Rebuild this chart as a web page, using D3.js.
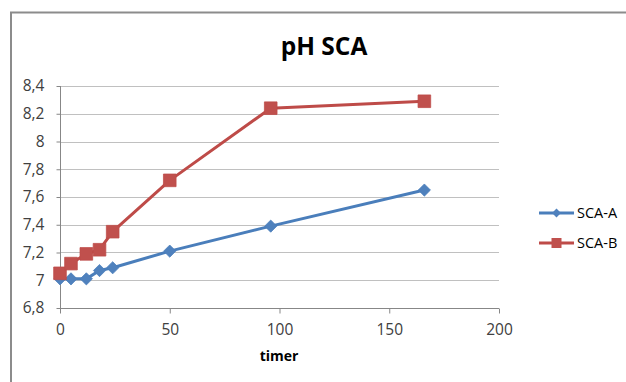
<!DOCTYPE html>
<html><head><meta charset="utf-8">
<script src="https://cdn.jsdelivr.net/npm/d3@7"></script>
<style>body{margin:0;background:#fff}svg{display:block}</style>
</head><body>
<svg id="c" width="626" height="382"></svg>
<script>
const hours = [0, 5, 12, 18, 24, 50, 96, 166];
const scaA = [7.01, 7.01, 7.01, 7.07, 7.09, 7.21, 7.39, 7.65];
const scaB = [7.05, 7.12, 7.19, 7.22, 7.35, 7.72, 8.24, 8.29];
const seriesNames = ["SCA-A", "SCA-B"];
const xTicks = [0, 50, 100, 150, 200];
const yTicks = [6.8, 7, 7.2, 7.4, 7.6, 7.8, 8, 8.2, 8.4];
const title = "pH SCA";
const xTitle = "timer";

const svg = d3.select("#c");
const font = "'Open Sans', 'Liberation Sans', sans-serif";
const colors = ["#4A7EBB", "#BE4B48"];
const fills = ["#4F81BD", "#C0504D"];

// frame (left and top only visible)
svg.append("path").attr("d", "M11,382 V12.5 H626").attr("fill", "none")
  .attr("stroke", "#8c8c8c").attr("stroke-width", 2);

const x = d3.scaleLinear().domain([0, 200]).range([60, 499]);
const y = d3.scaleLinear().domain([6.8, 8.4]).range([308, 86]);

// gridlines
svg.append("g").selectAll("line").data(yTicks.slice(1)).join("line")
  .attr("x1", x(0)).attr("x2", x(200))
  .attr("y1", d => Math.round(y(d)) + 0.5).attr("y2", d => Math.round(y(d)) + 0.5)
  .attr("stroke", "#c0c0c0").attr("stroke-width", 1);

const fmt = d => String(+d.toFixed(1)).replace(".", ",");

// y axis
const ya = svg.append("g").attr("transform", "translate(60.5,0)")
  .call(d3.axisLeft(y).tickValues(yTicks).tickSize(4).tickPadding(12).tickFormat(fmt));
ya.select(".domain").attr("stroke", "#878787").attr("d", `M0,${y(6.8)}V${y(8.4)}`);
ya.selectAll(".tick line").attr("stroke", "#878787");
ya.selectAll("text").attr("font-family", font).attr("font-size", 15.5).attr("fill", "#404040");

// x axis
const xa = svg.append("g").attr("transform", `translate(0,${Math.round(y(6.8)) + 0.5})`)
  .call(d3.axisBottom(x).tickValues(xTicks).tickSize(5).tickPadding(10));
xa.select(".domain").attr("stroke", "#878787").attr("d", `M${x(0)},0H${x(200)}`);
xa.selectAll(".tick line").attr("stroke", "#878787");
xa.selectAll("text").attr("font-family", font).attr("font-size", 15.5).attr("fill", "#404040");

// titles
svg.append("text").attr("x", 324).attr("y", 55).attr("text-anchor", "middle")
  .attr("font-family", font).attr("font-weight", "bold").attr("font-size", 24.5)
  .attr("fill", "#000").text(title);
svg.append("text").attr("x", 279).attr("y", 361).attr("text-anchor", "middle")
  .attr("font-family", font).attr("font-weight", "bold").attr("font-size", 14)
  .attr("fill", "#000").text(xTitle);

const data = [scaA, scaB];
const line = d3.line().x((d, i) => x(hours[i])).y(d => y(d));
const diamond = d3.symbol().type(d3.symbolDiamond2).size(95);
const square = d3.symbol().type(d3.symbolSquare).size(160);
const syms = [diamond, square];

data.forEach((vals, s) => {
  svg.append("path").datum(vals).attr("d", line).attr("fill", "none")
    .attr("stroke", colors[s]).attr("stroke-width", 3).attr("stroke-linejoin", "round");
  svg.append("g").selectAll("path").data(vals).join("path")
    .attr("transform", (d, i) => `translate(${x(hours[i])},${y(d)})`)
    .attr("d", syms[s]()).attr("fill", fills[s]).attr("stroke", colors[s]).attr("stroke-width", 0.75);
});

// legend
const ly = [213, 243];
seriesNames.forEach((n, s) => {
  const g = svg.append("g");
  g.append("line").attr("x1", 539).attr("x2", 574).attr("y1", ly[s]).attr("y2", ly[s])
    .attr("stroke", colors[s]).attr("stroke-width", 3);
  g.append("path").attr("transform", `translate(556.5,${ly[s]})`)
    .attr("d", (s === 0 ? d3.symbol().type(d3.symbolDiamond2).size(50) : d3.symbol().type(d3.symbolSquare).size(100))())
    .attr("fill", fills[s]);
  g.append("text").attr("x", 577).attr("y", ly[s] + 5).attr("font-family", font)
    .attr("font-size", 14.5).attr("fill", "#000").text(n);
});
</script>
</body></html>
